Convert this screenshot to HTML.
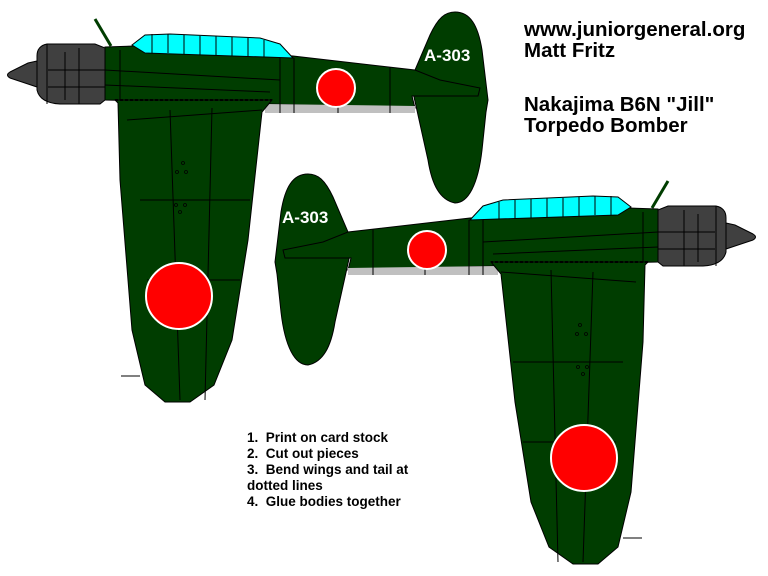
<!DOCTYPE html>
<html><head><style>
body{margin:0;background:#fff;width:768px;height:576px;overflow:hidden;position:relative;font-family:"Liberation Sans",Arial,sans-serif}
.t{position:absolute;font-weight:bold;font-size:20.5px;line-height:21px;color:#000}
.n{position:absolute;left:247px;top:430px;font-weight:bold;font-size:13.5px;line-height:16px}
</style></head><body>
<svg width="768" height="576" style="position:absolute;left:0;top:0">
<defs>
<g id="p" stroke="#000" stroke-width="1">
<line x1="95" y1="19" x2="111" y2="46" stroke="#003d00" stroke-width="3"/>
<path d="M455,12 C470,12 478,25 482,50 L488,100 L486,112 L482,150 C478,185 468,203 455,203 C440,200 432,185 428,160 L412,88 L415,70 L430,35 C438,18 445,12 455,12Z" fill="#003d00"/>
<path d="M105,47 L135,46 L293,56 L415,70 L440,80 L480,88 L478,96 L412,96 L415,108 L270,104 L105,100Z" fill="#003d00"/>
<path d="M265,104 L415,106 L415,113 L265,113Z" fill="#c0c0c0" stroke="none"/>
<path d="M132,45 L145,35 L170,34 L260,38 L280,44 L293,58 L145,53Z" fill="#00ffff"/>
<g stroke="#000" fill="none"><path d="M152,34V53M168,34V53M184,35V54M200,36V55M216,36V55M232,37V56M248,38V56M264,40V57"/>
<path d="M120,100 L120,50 M280,58 L280,113 M294,58 L294,113 M338,70 L338,113 M105,70 L280,80 M105,85 L270,92 M390,67 L390,113"/></g>
<path d="M115,100 L272,100 L262,112 L248,240 L232,340 L214,385 L190,402 L165,402 L145,385 L132,330 L120,180 L118,103Z" fill="#003d00"/>
<g fill="none"><path d="M127,120 L262,110 M140,200 L250,200 M147,280 L240,280 M170,110 L180,400 M212,108 L205,400"/></g>
<line x1="115" y1="100" x2="272" y2="100" stroke-dasharray="3,2" stroke-width="2"/>
<path d="M37,56 Q37,46 47,44 L95,44 L105,48 L105,100 L100,104 L60,104 Q40,103 37,90Z" fill="#404040"/>
<path d="M10,72 L28,63 L37,61 L37,87 L28,84 L10,78 Q5,75 10,72Z" fill="#404040"/>
<path d="M47,44V104 M65,52V100 M79,48V104 M48,70H105 M48,87H105" fill="none"/>
<circle cx="336" cy="88" r="19" fill="#f00" stroke="#fff" stroke-width="2"/>
<circle cx="179" cy="296" r="33" fill="#f00" stroke="#fff" stroke-width="2"/>
<line x1="121" y1="376" x2="140" y2="376"/>
<g fill="none" stroke-width="0.8"><circle cx="183" cy="163" r="1.5"/><circle cx="177" cy="172" r="1.5"/><circle cx="186" cy="172" r="1.5"/><circle cx="176" cy="205" r="1.5"/><circle cx="185" cy="205" r="1.5"/><circle cx="180" cy="212" r="1.5"/></g>
</g>
</defs>
<use href="#p"/>
<use href="#p" transform="translate(763,162) scale(-1,1)"/>
<text x="424" y="61" fill="#fff" font-weight="bold" font-size="17" font-family="Liberation Sans,sans-serif">A-303</text>
<text x="282" y="223" fill="#fff" font-weight="bold" font-size="17" font-family="Liberation Sans,sans-serif">A-303</text>
</svg>
<div class="t" style="left:524px;top:19px">www.juniorgeneral.org<br>Matt Fritz</div>
<div class="t" style="left:524px;top:94px">Nakajima B6N "Jill"<br>Torpedo Bomber</div>
<div class="n">1.&nbsp; Print on card stock<br>2.&nbsp; Cut out pieces<br>3.&nbsp; Bend wings and tail at<br>dotted lines<br>4.&nbsp; Glue bodies together</div>
</body></html>
